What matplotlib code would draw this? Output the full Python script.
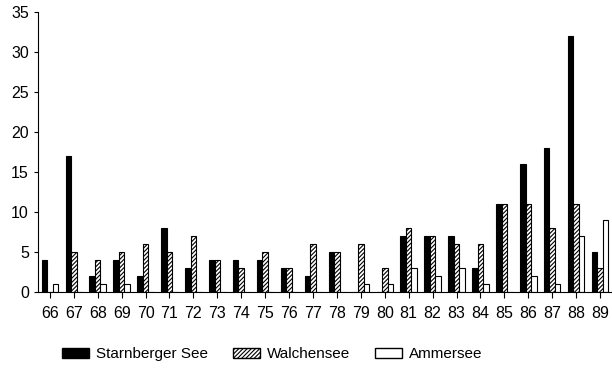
import numpy as np
import matplotlib.pyplot as plt
from matplotlib.patches import Patch

plt.rcParams["font.family"] = ["Liberation Sans", "DejaVu Sans"]
plt.rcParams["hatch.linewidth"] = 0.8

years = list(range(66, 90))
starnberger = [4, 17, 2, 4, 2, 8, 3, 4, 4, 4, 3, 2, 5, 0, 0, 7, 7, 7, 3, 11, 16, 18, 32, 5]
walchensee = [0, 5, 4, 5, 6, 5, 7, 4, 3, 5, 3, 6, 5, 6, 3, 8, 7, 6, 6, 11, 11, 8, 11, 3]
ammersee = [1, 0, 1, 1, 0, 0, 0, 0, 0, 0, 0, 0, 0, 1, 1, 3, 2, 3, 1, 0, 2, 1, 7, 9]
labels = ["Starnberger See", "Walchensee", "Ammersee"]

fig = plt.figure(figsize=(6.12, 3.73), dpi=100)
ax = fig.add_axes([0.062, 0.217, 0.936, 0.751])

x = np.array(years)
w = 0.23
ax.bar(x - w, starnberger, w, color="black", edgecolor="black", linewidth=0.8)
ax.bar(x, walchensee, w, color="white", edgecolor="black", hatch="////////", linewidth=0.8)
ax.bar(x + w, ammersee, w, color="white", edgecolor="black", linewidth=0.8)

ax.set_xlim(65.5, 89.45)
ax.set_ylim(0, 35)
ax.set_xticks(years)
ax.set_xticklabels([str(y) for y in years], fontsize=11.5)
ax.set_yticks(range(0, 36, 5))
ax.tick_params(axis="y", labelsize=11.5, length=3, width=0.8)
ax.tick_params(axis="x", length=4, width=0.8, pad=6)
ax.spines["top"].set_visible(False)
ax.spines["right"].set_visible(False)

handles = [
    Patch(facecolor="black", edgecolor="black"),
    Patch(facecolor="white", edgecolor="black", hatch="////////"),
    Patch(facecolor="white", edgecolor="black"),
]
fig.legend(handles, labels, loc="center", bbox_to_anchor=(0.445, 0.05), ncol=3,
           frameon=False, fontsize=11, handlelength=1.75, handleheight=0.7,
           columnspacing=1.6, handletextpad=0.5)

fig.savefig("out.png", dpi=100)
